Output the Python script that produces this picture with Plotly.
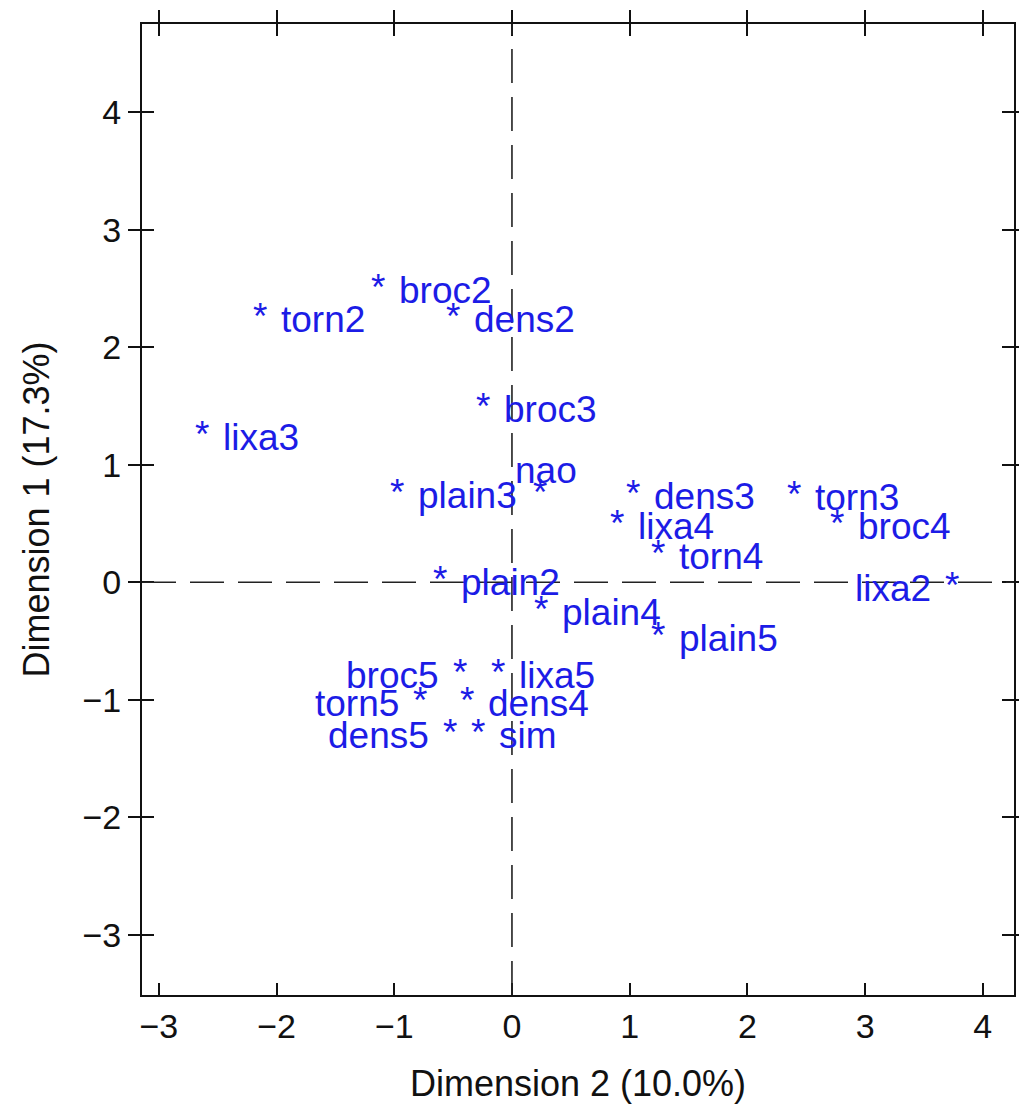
import plotly.graph_objects as go

# Correspondence analysis coordinates (Dimension 2 on x, Dimension 1 on y)
labels = ["broc2", "torn2", "dens2", "broc3", "lixa3", "nao", "plain3",
          "dens3", "lixa4", "torn4", "torn3", "broc4", "lixa2", "plain2",
          "plain4", "plain5", "broc5", "lixa5", "torn5", "dens4", "dens5", "sim"]
dim2 = [-1.14, -2.14, -0.50, -0.25, -2.63, 0.24, -0.98,
        1.03, 0.89, 1.24, 2.40, 2.76, 3.74, -0.61,
        0.25, 1.24, -0.44, -0.12, -0.78, -0.38, -0.53, -0.29]
dim1 = [2.53, 2.29, 2.29, 1.52, 1.28, 0.79, 0.79,
        0.78, 0.53, 0.27, 0.77, 0.53, 0.00, 0.05,
        -0.21, -0.43, -0.74, -0.74, -0.98, -0.98, -1.25, -1.25]
# where each label sits relative to its symbol
label_side = ["right", "right", "right", "right", "right", "above", "right",
              "right", "right", "right", "right", "right", "left", "right",
              "right", "right", "left", "right", "left", "right", "left", "right"]

x_ticks = [-3, -2, -1, 0, 1, 2, 3, 4]
y_ticks = [-3, -2, -1, 0, 1, 2, 3, 4]
x_range = [-3.143, 4.265]
y_range = [-3.512, 4.751]

FONT = "Arial, Liberation Sans, Helvetica, sans-serif"
BLUE = "#1c1ce6"
TXT = 37

fig = go.Figure()

# invisible traces so the overlay axes are drawn
fig.add_trace(go.Scatter(x=dim2, y=dim1, mode="markers", marker=dict(opacity=0),
                         hoverinfo="skip", showlegend=False, xaxis="x2", yaxis="y2"))
fig.add_trace(go.Scatter(x=dim2, y=dim1, mode="markers", marker=dict(opacity=0),
                         hoverinfo="skip", showlegend=False))

# reference lines through the origin
dash = dict(color="#222222", width=1.6, dash="34px,14px")
fig.add_shape(type="line", xref="x", yref="paper", x0=0, x1=0, y0=0, y1=1, line=dash)
fig.add_shape(type="line", xref="paper", yref="y", x0=0, x1=1, y0=0, y1=0, line=dash)

annotations = []
for lab, xv, yv, side in zip(labels, dim2, dim1, label_side):
    annotations.append(dict(x=xv, y=yv, xref="x", yref="y", text="*", showarrow=False,
                            xanchor="center", yanchor="middle", yshift=-3,
                            font=dict(family=FONT, size=TXT, color=BLUE)))
    if side == "right":
        pos = dict(xanchor="left", yanchor="middle", xshift=19, yshift=-6)
    elif side == "left":
        pos = dict(xanchor="right", yanchor="middle", xshift=-19, yshift=-6)
    else:
        pos = dict(xanchor="center", yanchor="middle", xshift=6, yshift=19)
    annotations.append(dict(x=xv, y=yv, xref="x", yref="y", text=lab, showarrow=False,
                            font=dict(family=FONT, size=TXT, color=BLUE), **pos))

axis_common = dict(showgrid=False, zeroline=False, showline=True, linecolor="#111111",
                   linewidth=2, tickcolor="#111111", tickwidth=2, ticklen=12,
                   automargin=False)

fig.update_layout(
    width=1019, height=1118,
    margin=dict(l=142, r=5, t=24, b=123),
    paper_bgcolor="white", plot_bgcolor="white",
    font=dict(family=FONT, color="#111111"),
    showlegend=False,
    annotations=annotations,
    # bottom axis: ticks point into the frame, labels below
    xaxis=dict(range=x_range, tickvals=x_ticks, ticks="inside", mirror="ticks",
               tickfont=dict(size=34), title=dict(text="Dimension 2 (10.0%)",
               font=dict(size=36), standoff=27), **axis_common),
    yaxis=dict(range=y_range, tickvals=y_ticks, ticks="outside", mirror="ticks",
               tickfont=dict(size=34), title=dict(text="Dimension 1 (17.3%)",
               font=dict(size=36), standoff=22), **axis_common),
    # top edge: outward ticks so they cross the frame
    xaxis2=dict(range=x_range, tickvals=x_ticks, ticks="outside", side="top",
                overlaying="x", showticklabels=False, **axis_common),
    yaxis2=dict(range=y_range, tickvals=y_ticks, ticks="inside", mirror="ticks",
                overlaying="y", showticklabels=False, **axis_common),
)

fig.write_html("out.html")
